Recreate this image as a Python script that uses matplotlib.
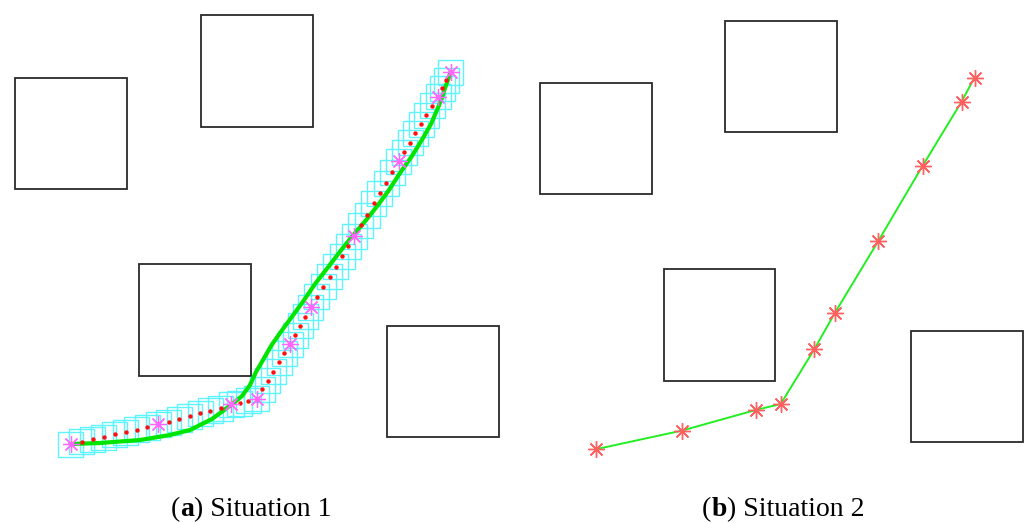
"""
Path planning around four square obstacles, two situations side by side.
Coordinates are in image pixels (y grows downwards).
"""

import matplotlib

matplotlib.use("Agg")
import matplotlib.pyplot as plt
from matplotlib.patches import Rectangle

# obstacles: (left, top, width, height)
obstacles_a = [(15, 78, 112, 111), (201, 15, 112, 112), (139, 264, 112, 112), (387, 326, 112, 111)]
obstacles_b = [(540, 83, 112, 111), (725, 21, 112, 111), (664, 269, 111, 112), (911, 331, 112, 111)]

# situation 1: key waypoints
waypoints_a_x = [70.5, 158.3, 231, 256.7, 290.3, 310.7, 354.3, 398.7, 438, 450.5]
waypoints_a_y = [444, 424.3, 404.3, 398.5, 344.3, 307, 236, 161.2, 96.7, 72]

# situation 1: intermediate sampled states
samples_a_x = [81.7, 92.7, 103.7, 114.7, 125.7, 136.7, 147.3,
               168.7, 179.3, 189.7, 200, 210.3, 220.7,
               239.7, 248,
               262.3, 267.7, 273.3, 279, 284.3,
               295.3, 300.3, 305.3,
               316.7, 323, 329.7, 335.7, 342, 348.3,
               360.7, 367, 373.7, 379.7, 386, 392.3,
               404.3, 410, 415.3, 421, 426.3, 432.3,
               442.3, 446.3]
samples_a_y = [441.7, 439.3, 437, 434.3, 432, 429.7, 427.3,
               422, 419.3, 416.3, 413.3, 410.7, 408,
               403, 400.7,
               389.3, 380.7, 371.7, 362.3, 353.3,
               335, 325.7, 316.7,
               296.7, 286.7, 276.7, 266.7, 256.3, 246,
               225.3, 215.3, 203.3, 193.3, 183.3, 172,
               152.3, 142.7, 133.3, 124, 115.3, 105.7,
               88.3, 80.3]

# situation 1: smoothed trajectory
smooth_a_x = [70.5, 100, 140, 170, 190, 212, 231, 242, 250, 256, 263, 271, 280,
              291, 302, 315, 329, 342, 355, 367, 378, 389, 400, 412, 423, 431,
              437, 442, 445, 448, 450.5]
smooth_a_y = [444, 443, 440, 435, 430, 419, 405, 396, 385, 372, 360, 346, 333,
              318, 303, 284, 266, 249, 233, 219, 205, 190, 173, 156, 138, 124,
              110, 98, 88, 80, 72]

# situation 2: waypoints
waypoints_b_x = [595.7, 682.3, 755.7, 780.7, 814.3, 835, 878.3, 922.5, 961.7, 974.5]
waypoints_b_y = [449.3, 430.5, 410, 404, 349.3, 312.7, 241, 166, 101.5, 77.5]

box_size = 25

fig = plt.figure(figsize=(10.29, 5.23), dpi=100)
ax_a = fig.add_axes([0, 0, 0.5, 1])
ax_b = fig.add_axes([0.5, 0, 0.5, 1])
ax_a.set_xlim(0, 514.5)
ax_b.set_xlim(514.5, 1029)
for ax in (ax_a, ax_b):
    ax.set_ylim(523, 0)
    ax.axis("off")

for ax, obstacles in ((ax_a, obstacles_a), (ax_b, obstacles_b)):
    for x0, y0, w, h in obstacles:
        ax.add_patch(Rectangle((x0, y0), w, h, fill=False, edgecolor="#2a2a2a", linewidth=1.3))

# cyan footprint boxes around every sampled state
for px, py in zip(samples_a_x + waypoints_a_x, samples_a_y + waypoints_a_y):
    ax_a.add_patch(Rectangle((px - box_size / 2, py - box_size / 2), box_size, box_size,
                             fill=False, edgecolor="#5ef4ff", linewidth=1.0))

ax_a.plot(smooth_a_x, smooth_a_y, color="#00e400", linewidth=3, zorder=3,
          solid_capstyle="round", solid_joinstyle="round")
ax_a.plot(samples_a_x, samples_a_y, "o", color="#ff1010", markersize=3.2, markeredgewidth=0, zorder=4)
ax_a.plot(waypoints_a_x, waypoints_a_y, "o", color="#e0108a", markersize=4, markeredgewidth=0, zorder=4)
ax_a.plot(waypoints_a_x, waypoints_a_y, marker=(8, 2, 0), linestyle="none", color="#ff66ff",
          markersize=12, markeredgewidth=0.9, zorder=5)

ax_b.plot(waypoints_b_x, waypoints_b_y, color="#22ee22", linewidth=1.4, zorder=3)
ax_b.plot(waypoints_b_x, waypoints_b_y, marker=(8, 2, 0), linestyle="none", color="#ff6060",
          markersize=12, markeredgewidth=1.0, zorder=4)

font = dict(family=["Liberation Serif", "DejaVu Serif"], fontsize=20, va="baseline")


def caption(xc, letter, label):
    """Draw '(letter) label' centred at pixel xc, with the letter in bold."""
    renderer = fig.canvas.get_renderer()
    parts = [("(", "normal"), (letter, "bold"), (") " + label, "normal")]
    widths = []
    for s, w in parts:
        tmp = fig.text(0, 0, s, fontweight=w, **font)
        widths.append(tmp.get_window_extent(renderer).width)
        tmp.remove()
    x = xc - sum(widths) / 2
    for (s, w), wd in zip(parts, widths):
        fig.text(x / 1029, 1 - 516 / 523, s, fontweight=w, ha="left", **font)
        x += wd


caption(251, "a", "Situation 1")
caption(783, "b", "Situation 2")

fig.savefig("out.png", dpi=100)
plt.close(fig)
